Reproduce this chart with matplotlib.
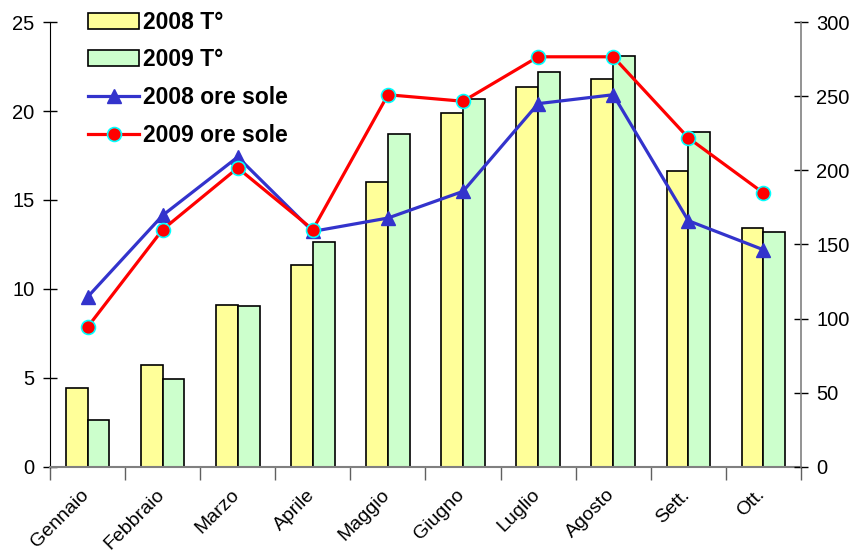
import numpy as np
import matplotlib
matplotlib.use("Agg")
import matplotlib.pyplot as plt
from matplotlib.patches import Patch
from matplotlib.lines import Line2D
from matplotlib.transforms import ScaledTranslation

plt.rcParams['font.family'] = ['Liberation Sans', 'DejaVu Sans']

mesi = ['Gennaio', 'Febbraio', 'Marzo', 'Aprile', 'Maggio', 'Giugno',
        'Luglio', 'Agosto', 'Sett.', 'Ott.']
temp_2008 = [4.45, 5.73, 9.09, 11.36, 15.99, 19.9, 21.36, 21.81, 16.63, 13.44]
temp_2009 = [2.63, 4.92, 9.01, 12.63, 18.73, 20.65, 22.18, 23.09, 18.81, 13.18]
sole_2008 = [114.5, 169.6, 209, 158.8, 167.8, 185.8, 245, 251, 166, 146.4]
sole_2009 = [94.2, 160, 201.6, 160, 251, 246.6, 276.6, 276.6, 221.9, 184.7]

giallo = '#FFFF99'
verde = '#CCFFCC'
blu = '#3333CC'
rosso = '#FF0000'

fig = plt.figure(figsize=(8.53, 5.53), dpi=100)
ax = fig.add_axes([0.0586, 0.156, 0.8804, 0.804])
ax2 = ax.twinx()

x = np.arange(len(mesi))
w = 0.29
ax.bar(x - w / 2, temp_2008, w, color=giallo, edgecolor='black', linewidth=1.2, zorder=2)
ax.bar(x + w / 2, temp_2009, w, color=verde, edgecolor='black', linewidth=1.2, zorder=2)

ax2.plot(x, sole_2008, color=blu, lw=2.3, marker='^', markersize=10,
         markerfacecolor=blu, markeredgecolor=blu)
ax2.plot(x, sole_2009, color=rosso, lw=2.3, marker='o', markersize=10,
         markerfacecolor=rosso, markeredgecolor='#00FFFF', markeredgewidth=1.2)

ax.set_xlim(-0.5, len(mesi) - 0.5)
ax.set_ylim(0, 25)
ax2.set_ylim(0, 300)
ax.set_yticks(range(0, 26, 5))
ax2.set_yticks(range(0, 301, 50))

for a in (ax, ax2):
    a.spines['top'].set_visible(False)
ax.spines['right'].set_visible(False)
ax2.spines['left'].set_visible(False)
ax2.spines['bottom'].set_visible(False)
ax.spines['left'].set_color('black')
ax.spines['bottom'].set_color('#808080')
ax.spines['bottom'].set_linewidth(1.5)
ax2.spines['right'].set_color('#808080')
ax2.spines['right'].set_linewidth(1.2)

ax.tick_params(axis='y', direction='inout', length=10, width=1, labelsize=14.5, pad=6)
ax2.tick_params(axis='y', direction='inout', length=10, width=1, labelsize=14.5, pad=6,
                colors='black')

ax.set_xticks(x)
ax.set_xticklabels(mesi, rotation=45, ha='right', rotation_mode='anchor', fontsize=14)
ax.tick_params(axis='x', which='major', length=0, pad=14)
ax.set_xticks(np.arange(-0.5, len(mesi), 1), minor=True)
ax.tick_params(axis='x', which='minor', direction='out', length=9, width=1, color='#606060')
sposta = ScaledTranslation(-5 / 72, 0, fig.dpi_scale_trans)
for lbl in ax.get_xticklabels():
    lbl.set_transform(lbl.get_transform() + sposta)

handles = [
    Patch(facecolor=giallo, edgecolor='black', linewidth=1.2),
    Patch(facecolor=verde, edgecolor='black', linewidth=1.2),
    Line2D([], [], color=blu, lw=2.3, marker='^', markersize=10),
    Line2D([], [], color=rosso, lw=2.3, marker='o', markersize=10,
           markeredgecolor='#00FFFF', markeredgewidth=1.2),
]
labels = ['2008 T°', '2009 T°', '2008 ore sole', '2009 ore sole']
ax2.legend(handles, labels, loc='upper left', bbox_to_anchor=(0.093, 0.997),
           bbox_transform=fig.transFigure, frameon=False,
           prop={'weight': 'bold', 'size': 16.5}, handlelength=2.2,
           labelspacing=0.64, handletextpad=0.2, borderaxespad=0)

fig.savefig('out.png', dpi=100)
